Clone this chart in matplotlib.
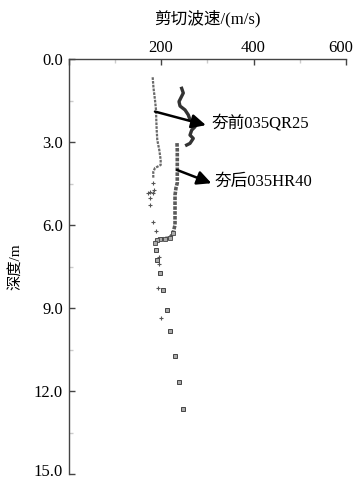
import matplotlib
matplotlib.use('Agg')
import matplotlib.pyplot as plt
from matplotlib.transforms import ScaledTranslation

plt.rcParams['font.family'] = ['Liberation Serif', 'Noto Sans CJK SC']

# 夯前 035QR25: continuous upper part, then scattered points
before_vs = [182.0, 183.8, 187.0, 189.2, 189.8, 190.7, 192.0, 196.3, 199.3, 199.3, 187.0, 183.3, 183.3]
before_depth = [0.66, 1.05, 1.48, 1.84, 2.20, 2.57, 2.93, 3.29, 3.65, 3.83, 3.94, 4.08, 4.30]
before_vs_pts = [182.0, 184.8, 176.2, 172.5, 182.0, 176.2, 176.2, 182.7, 189.2, 191.3, 195.7, 195.7, 193.5, 200.0]
before_depth_pts = [4.49, 4.73, 4.80, 4.85, 4.84, 5.03, 5.28, 5.89, 6.22, 6.58, 7.16, 7.41, 8.28, 9.36]

# 夯后 035HR40: wavy top part, straight middle part, scattered deep points
after_vs_top = [244.7, 248.2, 238.9, 241.1, 251.9, 259.0, 262.7, 269.8, 273.5, 266.4, 262.7, 269.8, 262.7, 255.5]
after_depth_top = [1.06, 1.23, 1.54, 1.70, 1.84, 2.02, 2.20, 2.31, 2.45, 2.57, 2.75, 2.87, 3.05, 3.11]
after_vs_mid = [234.6, 235.2, 235.2, 232.4, 230.3, 230.3, 226.0, 219.5, 208.6, 197.8, 191.3, 187.0]
after_depth_mid = [3.04, 3.29, 4.48, 4.66, 4.92, 6.00, 6.29, 6.47, 6.49, 6.51, 6.54, 6.65]
after_vs_pts = [189.2, 191.3, 197.8, 204.3, 212.9, 219.4, 230.2, 238.9, 247.6]
after_depth_pts = [6.90, 7.28, 7.75, 8.35, 9.07, 9.83, 10.73, 11.67, 12.65]

fig = plt.figure(figsize=(3.55, 4.8), dpi=100)
ax = fig.add_axes([68.5 / 355, 1 - 474 / 480, 277.5 / 355, 415 / 480])

# 夯前
ax.plot(before_vs, before_depth, color='#6a6a6a', lw=1.6, ls=(0, (1.2, 0.5)))
ax.plot(before_vs_pts, before_depth_pts, ls='none', marker='+', ms=3.5, mew=0.8, color='#555555')

# 夯后
ax.plot(after_vs_top, after_depth_top, color='#333333', lw=2.4)
ax.plot(after_vs_mid, after_depth_mid, color='#5a5a5a', lw=2.6, ls=(0, (1.0, 0.35)))
ax.plot(after_vs_mid[6:], after_depth_mid[6:], ls='none', marker='s', ms=2.8,
        mfc='#aaaaaa', mec='#444444', mew=0.6)
ax.plot(after_vs_pts, after_depth_pts, ls='none', marker='s', ms=3, mfc='#aaaaaa', mec='#444444', mew=0.7)

# arrows and labels
arrow = dict(arrowstyle='-|>,head_length=0.85,head_width=0.42', lw=1.8, color='black',
             shrinkA=0, shrinkB=0, mutation_scale=10)
ax.annotate('', xy=(297, 2.39), xytext=(187, 1.90), arrowprops=arrow)
ax.text(309, 2.31, '夯前035QR25', fontsize=12, va='center', ha='left')
ax.annotate('', xy=(309, 4.49), xytext=(234.6, 4.01), arrowprops=arrow)
ax.text(316, 4.43, '夯后035HR40', fontsize=12, va='center', ha='left')

ax.set_xlim(0, 600)
ax.set_ylim(15, 0)
ax.xaxis.tick_top()
ax.xaxis.set_label_position('top')
ax.set_xticks([0, 200, 400, 600])
ax.set_xticklabels(['', '200', '400', '600'])
ax.set_xticks([100, 300, 500], minor=True)
ax.set_yticks([0, 3, 6, 9, 12, 15])
ax.set_yticklabels(['0.0', '3.0', '6.0', '9.0', '12.0', '15.0'])
ax.set_yticks([1.5, 4.5, 7.5, 10.5, 13.5], minor=True)

ax.spines['right'].set_visible(False)
ax.spines['bottom'].set_visible(False)
for s in ['top', 'left']:
    ax.spines[s].set_color('#444444')
    ax.spines[s].set_linewidth(1.0)

ax.tick_params(which='major', direction='in', length=4, width=1, color='#444444',
               labelsize=12, pad=2)
ax.tick_params(which='minor', direction='in', length=3, width=1, color='#cccccc')
ax.tick_params(axis='y', which='major', pad=4)

ax.set_xlabel('剪切波速/(m/s)', fontsize=12, labelpad=12)
ax.set_ylabel('深度/m', fontsize=11, labelpad=8)

# keep edge labels inside the picture
lab = ax.get_xticklabels()[-1]
lab.set_transform(lab.get_transform() + ScaledTranslation(-5 / 100, 0, fig.dpi_scale_trans))
lab = ax.get_yticklabels()[-1]
lab.set_transform(lab.get_transform() + ScaledTranslation(0, 4 / 100, fig.dpi_scale_trans))

fig.savefig('out.png', dpi=100)
